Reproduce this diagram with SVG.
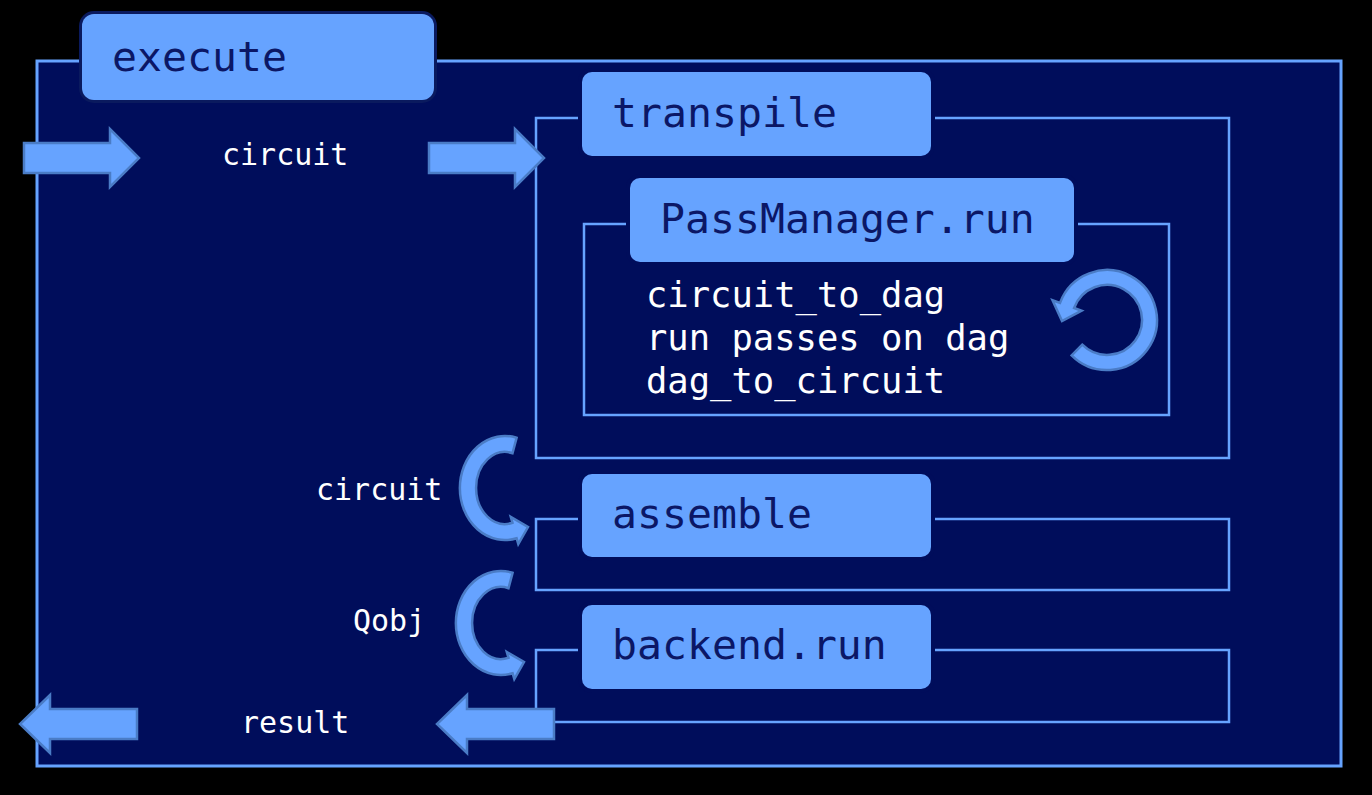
<svg xmlns="http://www.w3.org/2000/svg" width="1372" height="795" viewBox="0 0 1372 795">
<style>
.frame{fill:none;stroke:#66a3ff;stroke-width:2.5}
.lbl{fill:#66a3ff;stroke:#000d5b;stroke-width:8;paint-order:stroke}
.lt{font-family:"DejaVu Sans Mono","Liberation Mono",monospace;font-size:41.5px;fill:#0b1766}
.wt{font-family:"DejaVu Sans Mono","Liberation Mono",monospace;fill:#ffffff}
.arr{fill:#66a3ff;stroke:#4a7cc6;stroke-width:2.5;stroke-linejoin:miter}
</style>
<rect x="0" y="0" width="1372" height="795" fill="#000"/>
<g id="execute">
<rect x="37" y="61" width="1304" height="705" fill="#000d5b" stroke="#66a3ff" stroke-width="3"/>
<rect x="82" y="14" width="352" height="86" rx="12" fill="#66a3ff" stroke="#0a1a5e" stroke-width="6" paint-order="stroke"/>
<text class="lt" x="112" y="71">execute</text>
</g>
<g id="transpile">
<rect class="frame" x="536" y="118" width="693" height="340"/>
<rect class="lbl" x="582" y="72" width="349" height="84" rx="10"/>
<text class="lt" x="612" y="127">transpile</text>
</g>
<g id="passmanager">
<rect class="frame" x="584" y="224" width="585" height="191"/>
<rect class="lbl" x="630" y="178" width="444" height="84" rx="10"/>
<text class="lt" x="660" y="233">PassManager.run</text>
<text class="wt" font-size="35.5" x="646" y="307">circuit_to_dag</text>
<text class="wt" font-size="35.5" x="646" y="350">run passes on dag</text>
<text class="wt" font-size="35.5" x="646" y="393">dag_to_circuit</text>
</g>
<g id="assemble">
<rect class="frame" x="536" y="519" width="693" height="71"/>
<rect class="lbl" x="582" y="474" width="349" height="83" rx="10"/>
<text class="lt" x="612" y="528">assemble</text>
</g>
<g id="backend">
<rect class="frame" x="536" y="650" width="693" height="72"/>
<rect class="lbl" x="582" y="605" width="349" height="84" rx="10"/>
<text class="lt" x="612" y="659">backend.run</text>
</g>
<g id="labels">
<text class="wt" font-size="30" x="222" y="165">circuit</text>
<text class="wt" font-size="30" x="316" y="500">circuit</text>
<text class="wt" font-size="30" x="353" y="631">Qobj</text>
<text class="wt" font-size="30" x="241" y="733">result</text>
</g>
<g id="connectors">
<path class="arr" d="M24,143 H110 V129 L139,158 L110,187 V173 H24 Z"/>
<path class="arr" d="M429,143 H515 V129 L544,158 L515,187 V173 H429 Z"/>
<path class="arr" d="M137,709 H50 V695 L20,724 L50,753 V739 H137 Z"/>
<path class="arr" d="M554,709 H467 V695 L437,724 L467,753 V739 H554 Z"/>
<path class="arr" d="M516.6,437.8 A45,52 0 1 0 516.6,538.2 L518.3,544 L528,527 L510.8,517 L512.5,522.8 A29,36 0 1 1 512.5,453.2 Z"/>
<path class="arr" transform="translate(-4,135)" d="M516.6,437.8 A45,52 0 1 0 516.6,538.2 L518.3,544 L528,527 L510.8,517 L512.5,522.8 A29,36 0 1 1 512.5,453.2 Z"/>
<path class="arr" d="M1082.3,344.7 L1071.6,355.4 A50,50 0 1 0 1060,302.9 L1052.5,300.2 L1062,321 L1081.6,310.7 L1074.1,308 A35,35 0 1 1 1082.3,344.7 Z"/>
</g>
</svg>
